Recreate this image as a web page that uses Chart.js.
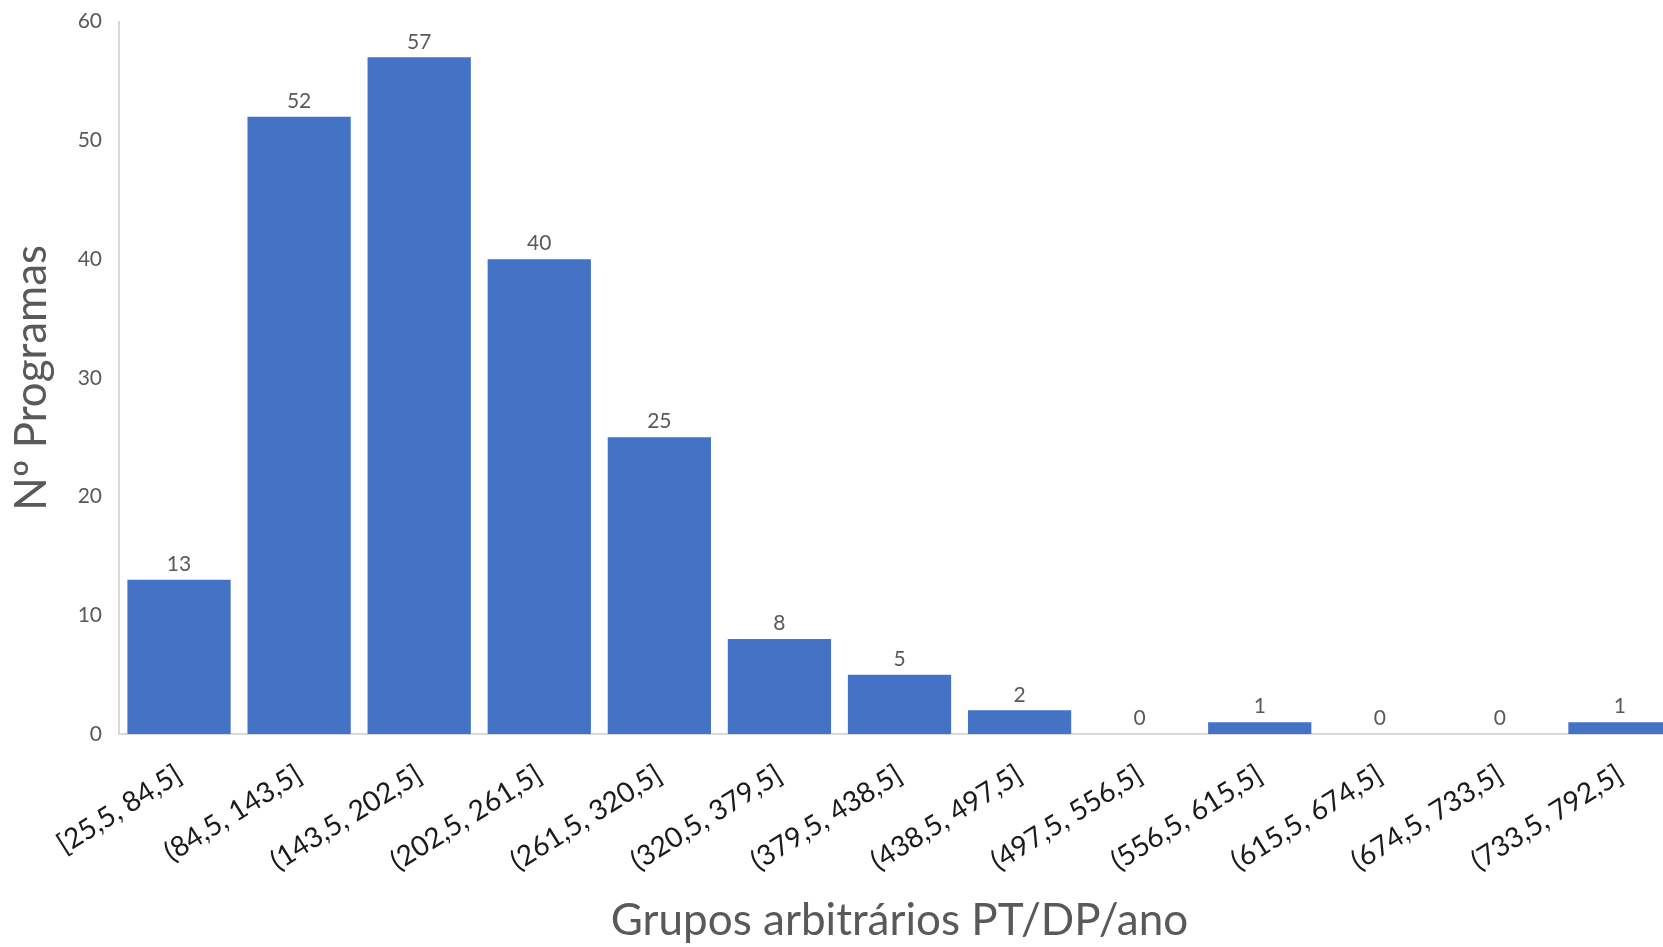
<!DOCTYPE html>
<html>
<head>
<meta charset="utf-8">
<script src="https://cdn.jsdelivr.net/npm/chart.js@4/dist/chart.umd.min.js"></script>
<style>
  html, body { margin: 0; padding: 0; background: #ffffff; overflow: hidden; }
  #wrap { width: 1680px; height: 947px; position: relative; }
</style>
</head>
<body>
<div id="wrap"><canvas id="chart"></canvas></div>
<script>
// Histogram bins (PT/DP per year) and number of programmes in each
const categories = [
  "[25,5, 84,5]", "(84,5, 143,5]", "(143,5, 202,5]", "(202,5, 261,5]",
  "(261,5, 320,5]", "(320,5, 379,5]", "(379,5, 438,5]", "(438,5, 497,5]",
  "(497,5, 556,5]", "(556,5, 615,5]", "(615,5, 674,5]", "(674,5, 733,5]",
  "(733,5, 792,5]"
];
const programCounts = [13, 52, 57, 40, 25, 8, 5, 2, 0, 1, 0, 0, 1];
const yTicks = [0, 10, 20, 30, 40, 50, 60];

const xTitle = "Grupos arbitrários PT/DP/ano";
const yTitle = "Nº Programas";

const FONT = "Lato, 'Open Sans', sans-serif";
const GREY = "#595959";

// Writes each bar's value just above it
const valueLabels = {
  id: "valueLabels",
  afterDatasetsDraw(chart) {
    const ctx = chart.ctx;
    const meta = chart.getDatasetMeta(0);
    ctx.save();
    ctx.font = "21px " + FONT;
    ctx.fillStyle = GREY;
    ctx.textAlign = "center";
    ctx.textBaseline = "bottom";
    meta.data.forEach((bar, i) => {
      ctx.fillText(String(programCounts[i]), bar.x, bar.y - 5);
    });
    ctx.restore();
  }
};

new Chart(document.getElementById("chart"), {
  type: "bar",
  data: {
    labels: categories,
    datasets: [{
      data: programCounts,
      backgroundColor: "#4472C4",
      borderWidth: 0,
      categoryPercentage: 1.0,
      barPercentage: 0.86
    }]
  },
  options: {
    responsive: true,
    maintainAspectRatio: false,
    animation: false,
    layout: { padding: { top: 0, left: 0, right: 0, bottom: 0 } },
    plugins: {
      legend: { display: false },
      tooltip: { enabled: false }
    },
    scales: {
      x: {
        grid: { display: false, drawTicks: false },
        border: { display: true, color: "#d9d9d9", width: 2 },
        ticks: {
          color: "#1a1a1a",
          font: { family: FONT, size: 28 },
          minRotation: 32,
          maxRotation: 32,
          padding: 24,
          autoSkip: false
        },
        title: {
          display: true,
          text: xTitle,
          color: GREY,
          font: { family: FONT, size: 44 },
          padding: { top: 0, bottom: 0 }
        },
        afterFit(scale) { scale.height = 213; }
      },
      y: {
        min: 0,
        max: 60,
        afterBuildTicks(scale) { scale.ticks = yTicks.map(v => ({ value: v })); },
        grid: { display: false, drawTicks: false },
        border: { display: true, color: "#d9d9d9", width: 2 },
        ticks: {
          color: GREY,
          // tight line height keeps the plot top close to the "60" label
          font: { family: FONT, size: 21, lineHeight: 0.45 },
          padding: 17
        },
        title: {
          display: true,
          text: yTitle,
          color: GREY,
          font: { family: FONT, size: 44 },
          padding: { top: 5, bottom: 0 }
        },
        afterFit(scale) { scale.width = 119; }
      }
    }
  },
  plugins: [valueLabels]
});
</script>
</body>
</html>
